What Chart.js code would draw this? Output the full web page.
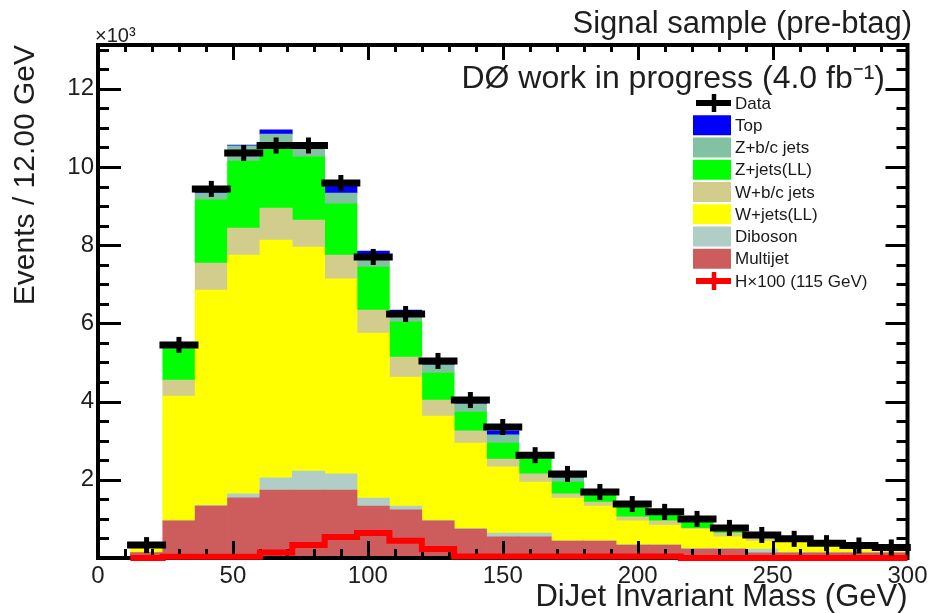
<!DOCTYPE html>
<html>
<head>
<meta charset="utf-8">
<script src="https://cdn.jsdelivr.net/npm/chart.js@4.4.1/dist/chart.umd.min.js"></script>
<style>
html,body{margin:0;padding:0;background:#ffffff;overflow:hidden}
#wrap{width:934px;height:613px;position:relative}
canvas{display:block}
</style>
</head>
<body>
<div id="wrap"><canvas id="c" width="934" height="613"></canvas></div>
<script>
// ---------- data (units: 10^3 events per 12 GeV bin) ----------
const binEdges = [12,24,36,48,60,72,84,96,108,120,132,144,156,168,180,192,204,216,228,240,252,264,276,288,300];
const xTickLabels = [0,50,100,150,200,250,300];
const yTickLabels = [2,4,6,8,10,12];

const multijet = [0.14,0.95,1.33,1.54,1.74,1.74,1.74,1.33,1.23,0.95,0.74,0.54,0.54,0.43,0.43,0.33,0.33,0.23,0.23,0.13,0.13,0.13,0.13,0.13];
const diboson  = [0.00,0.00,0.02,0.10,0.31,0.48,0.41,0.20,0.10,0.01,0.01,0.10,0.10,0.01,0.01,0.01,0.01,0.01,0.01,0.10,0.01,0.01,0.01,0.01];
const wjetsLL  = [0.10,3.19,5.50,6.11,6.08,5.73,4.99,4.22,3.30,2.67,2.19,1.69,1.30,1.09,0.89,0.61,0.50,0.50,0.30,0.20,0.29,0.19,0.11,0.06];
const wbcjets  = [0.02,0.41,0.69,0.69,0.82,0.69,0.61,0.59,0.51,0.41,0.31,0.20,0.21,0.11,0.10,0.10,0.11,0.02,0.10,0.11,0.02,0.01,0.01,0.01];
const zjetsLL  = [0.04,0.80,1.62,1.71,1.51,1.62,1.31,1.10,0.90,0.69,0.48,0.41,0.38,0.30,0.21,0.28,0.17,0.19,0.04,0.01,0.01,0.01,0.01,0.01];
const zbcjets  = [0.01,0.07,0.17,0.39,0.38,0.22,0.27,0.21,0.20,0.21,0.21,0.21,0.05,0.11,0.03,0.03,0.03,0.02,0.02,0.01,0.01,0.00,0.00,0.00];
const topQuark = [0.00,0.02,0.05,0.02,0.11,0.06,0.21,0.20,0.10,0.06,0.06,0.10,0.02,0.03,0.01,0.01,0.01,0.01,0.01,0.00,0.00,0.00,0.00,0.00];
const dataVals = [0.33,5.45,9.44,10.36,10.55,10.55,9.59,7.70,6.24,5.04,4.04,3.35,2.63,2.15,1.69,1.38,1.18,1.00,0.77,0.59,0.49,0.38,0.32,0.27];
const higgsX100 = [0.00,0.03,0.03,0.03,0.14,0.33,0.54,0.64,0.44,0.23,0.04,0.04,0.04,0.04,0.04,0.04,0.04,0.00,0.00,0.00,0.00,0.00,0.00,0.00];

const seriesLabels = ['Multijet','Diboson','W+jets(LL)','W+b/c jets','Z+jets(LL)','Z+b/c jets','Top'];
const seriesColors = ['#CD5C5C','#B0CEC6','#FFFF00','#D2CD8C','#00FF00','#82C2A2','#0000FF'];
const legendOrder = ['Data','Top','Z+b/c jets','Z+jets(LL)','W+b/c jets','W+jets(LL)','Diboson','Multijet','H×100 (115 GeV)'];

// ---------- helpers ----------
const FONT = "'Liberation Sans', Arial, Helvetica, sans-serif";
const binCenters = binEdges.slice(0, -1).map((e, i) => (e + binEdges[i + 1]) / 2);
const toPts = arr => binCenters.map((x, i) => ({x: x, y: arr[i]}));
const seriesData = [multijet, diboson, wjetsLL, wbcjets, zjetsLL, zbcjets, topQuark];

const barSets = seriesData.map((arr, k) => ({
  type: 'bar',
  label: seriesLabels[k],
  data: toPts(arr),
  backgroundColor: seriesColors[k],
  borderWidth: 0,
  barPercentage: 1.0,
  categoryPercentage: 1.0,
  stack: 'mc',
  order: 10
}));

const higgsPts = binEdges.map((e, i) => ({x: e, y: higgsX100[Math.min(i, higgsX100.length - 1)]}));

const datasets = barSets.concat([
  {
    type: 'line', label: 'H×100 (115 GeV)', data: higgsPts, stepped: 'before',
    borderColor: '#FF0000', borderWidth: 6, pointRadius: 0, fill: false,
    stack: 'higgs', order: 2, clip: false, isHiggs: true
  },
  {
    type: 'line', label: 'Data', data: toPts(dataVals), showLine: false,
    pointStyle: 'line', pointRadius: 19.5, pointHoverRadius: 19.5, pointBorderWidth: 7,
    pointBorderColor: '#000', pointBackgroundColor: '#000', borderColor: '#000',
    stack: 'dataH', order: 1, clip: false
  },
  {
    type: 'line', label: 'Data', data: toPts(dataVals), showLine: false,
    pointStyle: 'line', pointRotation: 90, pointRadius: 8, pointHoverRadius: 8, pointBorderWidth: 5,
    pointBorderColor: '#000', pointBackgroundColor: '#000', borderColor: '#000',
    stack: 'dataV', order: 1, clip: false
  }
]);

// frame + inward ticks (drawn before the Higgs line, as in the reference)
const frameTicks = {
  id: 'frameTicks',
  beforeDatasetDraw(chart, args) {
    if (!chart.data.datasets[args.index].isHiggs) return;
    const ctx = chart.ctx, a = chart.chartArea;
    const xs = chart.scales.x, ys = chart.scales.y;
    ctx.save();
    ctx.strokeStyle = '#000';
    ctx.lineWidth = 3;
    ctx.lineCap = 'butt';
    for (let v = 10; v < 300; v += 10) {
      const px = Math.round(xs.getPixelForValue(v)) + 0.5;
      const major = v % 50 === 0;
      ctx.beginPath();
      ctx.moveTo(px, a.bottom); ctx.lineTo(px, a.bottom - (major ? 17 : 9));
      ctx.moveTo(px, a.top); ctx.lineTo(px, a.top + (major ? 15 : 7));
      ctx.stroke();
    }
    for (let k = 1; k <= 26; k++) {
      const v = k * 0.5;
      if (v > ys.max) break;
      const py = Math.round(ys.getPixelForValue(v)) + 0.5;
      const major = k % 4 === 0;
      ctx.beginPath();
      ctx.moveTo(a.left, py); ctx.lineTo(a.left + (major ? 23 : 11), py);
      ctx.moveTo(a.right, py); ctx.lineTo(a.right - (major ? 22 : 11), py);
      ctx.stroke();
    }
    ctx.lineWidth = 4;
    ctx.strokeRect(a.left, a.top, a.right - a.left, a.bottom - a.top);
    ctx.restore();
  }
};

const annotations = {
  id: 'annotations',
  afterDraw(chart) {
    const ctx = chart.ctx;
    ctx.save();
    ctx.fillStyle = '#1e1e1e';
    ctx.textBaseline = 'alphabetic';
    ctx.textAlign = 'right';
    ctx.font = '31px ' + FONT;
    ctx.fillText('Signal sample (pre-btag)', 912, 33);
    ctx.font = '32px ' + FONT;
    ctx.fillText('DØ work in progress (4.0 fb⁻¹)', 885, 88);
    ctx.textAlign = 'left';
    ctx.font = '20px ' + FONT;
    ctx.fillText('×10³', 95, 42);

    // legend
    const colorOf = {};
    chart.data.datasets.forEach(d => { if (d.type === 'bar') colorOf[d.label] = d.backgroundColor; });
    const x0 = 693, x1 = 731, xm = 714;
    legendOrder.forEach((lab, i) => {
      const cy = 103 + i * 22.25;
      if (lab === 'Data' || lab.startsWith('H')) {
        ctx.strokeStyle = lab === 'Data' ? '#000' : '#FF0000';
        ctx.lineWidth = 6;
        ctx.beginPath(); ctx.moveTo(x0 + 3, cy); ctx.lineTo(x1, cy); ctx.stroke();
        ctx.lineWidth = 4.5;
        ctx.beginPath(); ctx.moveTo(xm, cy - 9); ctx.lineTo(xm, cy + 9); ctx.stroke();
      } else {
        ctx.fillStyle = colorOf[lab];
        ctx.fillRect(x0, cy - 10, x1 - x0, 20);
      }
      ctx.fillStyle = '#1a1a1a';
      ctx.font = '17px ' + FONT;
      ctx.textBaseline = 'middle';
      ctx.fillText(lab, 735, cy + 1);
    });
    ctx.restore();
  }
};

Chart.defaults.font.family = FONT;

new Chart(document.getElementById('c'), {
  type: 'bar',
  data: {datasets: datasets},
  options: {
    responsive: false,
    animation: false,
    devicePixelRatio: 1,
    layout: {padding: {top: 45, right: 24, bottom: 0, left: 0}},
    plugins: {legend: {display: false}, tooltip: {enabled: false}, title: {display: false}},
    scales: {
      x: {
        type: 'linear', min: 0, max: 300, stacked: true, offset: false,
        grid: {display: false, drawTicks: false, offset: false},
        border: {display: false},
        afterBuildTicks: s => { s.ticks = xTickLabels.map(v => ({value: v})); },
        ticks: {stepSize: 50, autoSkip: false, maxRotation: 0, padding: 4, color: '#1e1e1e', font: {size: 24}},
        title: {display: true, text: 'DiJet Invariant Mass (GeV)', align: 'end', color: '#1e1e1e',
                font: {size: 31, lineHeight: 1}, padding: {top: 0, bottom: 0}},
        afterFit: s => { s.height = 55; }
      },
      y: {
        type: 'linear', min: 0, max: 13.12, stacked: true,
        grid: {display: false, drawTicks: false},
        border: {display: false},
        afterBuildTicks: s => { s.ticks = yTickLabels.map(v => ({value: v})); },
        ticks: {padding: 4, color: '#1e1e1e', font: {size: 24}},
        title: {display: true, text: 'Events / 12.00 GeV', align: 'end', color: '#1e1e1e',
                font: {size: 30, lineHeight: 1}, padding: {top: 11, bottom: 0}},
        afterFit: s => { s.width = 98; }
      }
    }
  },
  plugins: [frameTicks, annotations]
});
</script>
</body>
</html>
